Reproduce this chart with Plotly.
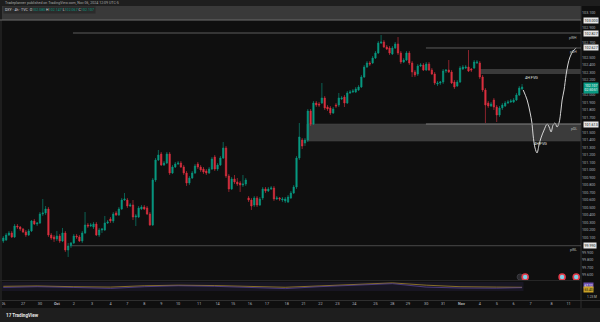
import plotly.graph_objects as go

W, H = 600, 322
PW = 581  # plot-area width in pixels (right margin holds the price scale)
UP = "#089981"
DOWN = "#dc3040"

# ---------------- data (4h candles) ----------------
opens = [100.053, 100.067, 100.133, 100.16, 100.107, 100.253, 100.24, 100.213, 100.173, 100.133,
         100.187, 100.32, 100.28, 100.293, 100.413, 100.427, 100.48, 100.133, 100.107, 100.08,
         100.12, 100.053, 100.16, 99.933, 99.987, 100.027, 100.12, 100.107, 100.053, 100.16,
         100.267, 100.253, 100.24, 100.28, 100.133, 100.2, 100.2, 100.293, 100.347, 100.32,
         100.427, 100.4, 100.48, 100.6, 100.6, 100.52, 100.533, 100.373, 100.373, 100.48,
         100.507, 100.493, 100.413, 100.267, 100.867, 101.133, 101.213, 101.067, 101.093, 101.213,
         100.96, 101.04, 101.08, 101.093, 101.04, 100.96, 100.827, 100.893, 100.96, 101.08,
         101.04, 101.013, 100.987, 100.96, 101.013, 101.173, 101.013, 101.067, 101.16, 101.293,
         100.92, 100.747, 100.88, 100.84, 100.827, 100.8, 100.813, 100.627, 100.6, 100.533,
         100.627, 100.533, 100.627, 100.747, 100.72, 100.747, 100.76, 100.613, 100.627, 100.6,
         100.587, 100.573, 100.627, 100.693, 100.773, 101.16, 101.4, 101.36, 101.4, 101.787,
         101.613, 101.893, 101.88, 101.893, 101.96, 101.84, 101.827, 101.76, 101.867, 101.867,
         101.947, 101.973, 101.893, 102.027, 102.04, 102.04, 102.067, 102.107, 102.24, 102.373,
         102.427, 102.427, 102.493, 102.56, 102.693, 102.707, 102.64, 102.627, 102.547, 102.627,
         102.68, 102.56, 102.44, 102.467, 102.56, 102.427, 102.307, 102.28, 102.387, 102.4,
         102.333, 102.413, 102.333, 102.28, 102.147, 102.16, 102.173, 102.32, 102.333, 102.307,
         102.173, 102.12, 102.173, 102.347, 102.36, 102.373, 102.347, 102.36, 102.427, 102.427,
         102.24, 102.067, 101.893, 101.853, 101.933, 101.84, 101.733, 101.827, 101.853, 101.893,
         101.907, 101.907, 101.933, 102.0, 102.08]
highs = [100.12, 100.16, 100.187, 100.187, 100.28, 100.28, 100.253, 100.227, 100.2, 100.213,
         100.333, 100.347, 100.307, 100.44, 100.613, 100.52, 100.507, 100.16, 100.133, 100.187,
         100.147, 100.227, 100.187, 100.027, 100.04, 100.147, 100.147, 100.133, 100.187, 100.44,
         100.293, 100.293, 100.307, 100.307, 100.227, 100.227, 100.387, 100.333, 100.373, 100.44,
         100.453, 100.507, 100.627, 100.693, 100.627, 100.56, 100.6, 100.413, 100.52, 100.533,
         100.533, 100.52, 100.44, 100.893, 101.16, 101.267, 101.24, 101.12, 101.24, 101.24,
         101.067, 101.107, 101.12, 101.12, 101.067, 100.987, 100.92, 100.987, 101.08, 101.107,
         101.067, 101.04, 101.013, 101.04, 101.173, 101.2, 101.093, 101.187, 101.373, 101.32,
         100.947, 100.907, 100.933, 100.893, 100.853, 100.933, 100.893, 100.653, 100.627, 100.653,
         100.653, 100.64, 100.773, 100.773, 100.773, 100.787, 100.787, 100.653, 100.64, 100.64,
         100.64, 100.667, 100.72, 100.8, 101.187, 101.627, 101.427, 101.427, 101.813, 101.813,
         101.92, 101.92, 101.907, 102.16, 101.987, 101.867, 101.853, 101.84, 101.893, 102.027,
         101.987, 102.0, 102.053, 102.067, 102.08, 102.107, 102.133, 102.267, 102.4, 102.453,
         102.453, 102.52, 102.587, 102.72, 102.8, 102.733, 102.667, 102.653, 102.653, 102.707,
         102.773, 102.587, 102.493, 102.587, 102.587, 102.453, 102.333, 102.413, 102.427, 102.427,
         102.44, 102.44, 102.36, 102.307, 102.187, 102.187, 102.347, 102.347, 102.467, 102.333,
         102.2, 102.2, 102.387, 102.4, 102.4, 102.6, 102.36, 102.467, 102.467, 102.453,
         102.267, 102.093, 101.92, 101.907, 101.96, 101.867, 101.853, 101.893, 101.92, 101.933,
         101.947, 101.96, 102.027, 102.12, 102.147]
lows = [100.027, 100.053, 100.12, 100.093, 100.093, 100.213, 100.187, 100.16, 100.107, 100.12,
        100.173, 100.267, 100.253, 100.28, 100.387, 100.4, 100.107, 100.067, 100.04, 100.053,
        100.027, 100.04, 99.907, 99.84, 99.96, 100.013, 100.08, 100.04, 100.027, 100.147,
        100.227, 100.24, 100.213, 100.12, 100.107, 100.16, 100.187, 100.28, 100.293, 100.293,
        100.387, 100.387, 100.467, 100.587, 100.493, 100.507, 100.333, 100.253, 100.36, 100.467,
        100.467, 100.4, 100.253, 100.253, 100.84, 101.12, 101.053, 101.053, 101.08, 100.933,
        100.947, 101.027, 101.067, 101.027, 100.933, 100.787, 100.8, 100.88, 100.947, 101.013,
        100.973, 100.947, 100.933, 100.947, 101.0, 100.987, 100.987, 101.053, 101.147, 100.893,
        100.707, 100.733, 100.813, 100.787, 100.707, 100.773, 100.787, 100.573, 100.467, 100.507,
        100.507, 100.52, 100.6, 100.693, 100.707, 100.733, 100.587, 100.6, 100.587, 100.573,
        100.56, 100.56, 100.613, 100.68, 100.747, 101.133, 101.28, 101.32, 101.373, 101.587,
        101.6, 101.84, 101.84, 101.88, 101.8, 101.787, 101.733, 101.747, 101.827, 101.84,
        101.933, 101.84, 101.88, 102.013, 102.027, 102.027, 102.053, 102.093, 102.227, 102.36,
        102.387, 102.413, 102.48, 102.547, 102.68, 102.627, 102.6, 102.533, 102.533, 102.613,
        102.533, 102.413, 102.427, 102.453, 102.4, 102.24, 102.24, 102.253, 102.373, 102.32,
        102.32, 102.32, 102.267, 102.133, 102.12, 102.133, 102.147, 102.293, 102.293, 102.147,
        102.08, 102.107, 102.16, 102.333, 102.347, 102.307, 102.307, 102.347, 102.413, 102.213,
        102.04, 101.627, 101.827, 101.84, 101.8, 101.64, 101.707, 101.8, 101.84, 101.88,
        101.893, 101.893, 101.92, 101.987, 102.067]
closes = [100.093, 100.133, 100.16, 100.107, 100.253, 100.24, 100.213, 100.173, 100.133, 100.187,
          100.32, 100.28, 100.293, 100.413, 100.427, 100.48, 100.133, 100.093, 100.08, 100.12,
          100.053, 100.16, 99.933, 99.987, 100.027, 100.12, 100.107, 100.053, 100.16, 100.267,
          100.253, 100.267, 100.28, 100.133, 100.2, 100.213, 100.293, 100.307, 100.32, 100.413,
          100.4, 100.48, 100.6, 100.613, 100.52, 100.533, 100.373, 100.387, 100.493, 100.507,
          100.48, 100.413, 100.267, 100.867, 101.133, 101.2, 101.067, 101.093, 101.213, 100.96,
          101.04, 101.08, 101.093, 101.04, 100.96, 100.827, 100.893, 100.96, 101.053, 101.04,
          101.0, 100.973, 100.96, 101.013, 101.147, 101.013, 101.067, 101.16, 101.293, 100.92,
          100.747, 100.88, 100.84, 100.813, 100.8, 100.813, 100.867, 100.6, 100.52, 100.627,
          100.533, 100.613, 100.747, 100.72, 100.747, 100.76, 100.613, 100.627, 100.613, 100.613,
          100.613, 100.64, 100.693, 100.773, 101.16, 101.44, 101.32, 101.4, 101.787, 101.613,
          101.893, 101.867, 101.867, 101.96, 101.827, 101.813, 101.76, 101.813, 101.853, 101.96,
          101.96, 101.893, 102.027, 102.04, 102.053, 102.08, 102.107, 102.24, 102.373, 102.427,
          102.413, 102.493, 102.56, 102.693, 102.707, 102.64, 102.613, 102.56, 102.627, 102.68,
          102.56, 102.44, 102.467, 102.56, 102.427, 102.307, 102.267, 102.387, 102.4, 102.333,
          102.413, 102.333, 102.28, 102.16, 102.16, 102.173, 102.32, 102.333, 102.307, 102.16,
          102.107, 102.173, 102.36, 102.373, 102.373, 102.32, 102.333, 102.44, 102.44, 102.24,
          102.067, 101.867, 101.853, 101.88, 101.84, 101.733, 101.827, 101.867, 101.893, 101.907,
          101.92, 101.933, 102.0, 102.093, 102.107]
bar_index = list(range(len(closes)))

# x-axis (day) labels and their bar positions
day_pos = [0, 7, 13, 19, 25, 31.5, 38, 44, 50, 56, 62, 69.5, 76, 81.5, 87.5, 93.5, 100.5,
           106.5, 112.5, 118.5, 124.5, 132, 138, 143.5, 150, 156, 162.5, 169, 175, 181, 187,
           194.5, 200.5]
day_labels = ["26", "27", "30", "<b>Oct</b>", "2", "3", "4", "7", "8", "9", "10", "11", "14",
              "15", "16", "17", "18", "21", "22", "23", "24", "25", "28", "29", "30", "31",
              "<b>Nov</b>", "4", "5", "6", "7", "8", "11"]

# price-axis labels (those hidden behind highlighted labels are left out)
price_ticks = [99.6, 99.7, 99.8, 99.9, 100.1, 100.2, 100.3, 100.4, 100.5, 100.6, 100.7,
               100.8, 100.9, 101.0, 101.1, 101.2, 101.3, 101.4, 101.5, 101.7, 101.8,
               101.9, 102.0, 102.2, 102.3, 102.4, 102.5, 102.7, 102.9, 103.1]
price_labels = ["99.600", "99.700", "99.800", "99.900", "100.100", "100.200",
                "100.300", "100.400", "100.500", "100.600", "100.700", "100.800", "100.900",
                "101.000", "101.100", "101.200", "101.300", "101.400", "101.500",
                "101.700", "101.800", "101.900", "102.000", "102.200", "102.300",
                "102.400", "102.500", "102.700", "102.900", "103.100"]

# drawn levels / zones
supply_top = 103.0
fvg_upper = [102.28, 102.347]
demand_zone = [101.387, 101.613]
level_pwh = 102.827
level_pdh = 102.627
level_pdl = 101.613
level_pwl = 99.99
level_names = ["pWH", "pDH", "pDL", "pWL"]

# projected path (bar position, price)
proj_x = [184.4, 185.8, 186.8, 187.5, 187.9, 188.6, 189.3, 190.0, 190.7, 191.8, 192.9, 193.6,
          194.3, 195.0, 195.7, 196.4, 197.1, 197.8, 198.2, 198.9, 199.6, 200.3, 201.0, 202.1,
          203.2]
proj_y = [102.067, 101.933, 101.773, 101.627, 101.467, 101.293, 101.227, 101.333, 101.427,
          101.533, 101.613, 101.573, 101.507, 101.6, 101.627, 101.573, 101.627, 101.8, 101.933,
          102.067, 102.267, 102.413, 102.507, 102.587, 102.627]

# event markers
event_x = [185.1, 198.2, 203.2]

# lower indicator
ind_x = [0, 12, 25, 38, 50, 62, 75, 88, 100, 112, 125, 138, 150, 162, 175, 184]
ind_yellow = [72, 74, 70, 68, 75, 78, 76, 71, 67, 74, 82, 90, 78, 70, 68, 67]
ind_purple = [66, 70, 66, 61, 70, 75, 72, 65, 60, 70, 78, 86, 68, 63, 62, 65]

# ---------------- layout helpers ----------------
X0, X1 = -1.17, 204.9
def py(p):  # pixel row -> paper y
    return 1 - p / H
def px(p):  # pixel column -> paper x (paper spans the plot area only)
    return p / PW

fig = go.Figure()
fig.add_trace(go.Candlestick(
    x=bar_index, open=opens, high=highs, low=lows, close=closes,
    increasing=dict(line=dict(color=UP, width=0.6), fillcolor=UP),
    decreasing=dict(line=dict(color=DOWN, width=0.6), fillcolor=DOWN),
    whiskerwidth=0, showlegend=False, hoverinfo="skip", xaxis="x", yaxis="y"))

fig.add_trace(go.Scatter(x=proj_x, y=proj_y, mode="lines", line=dict(color="#d6d6d6", width=1, shape="spline"),
                         showlegend=False, hoverinfo="skip", xaxis="x", yaxis="y"))

fig.add_trace(go.Scatter(x=[183.3], y=[99.573], mode="markers",
                         marker=dict(size=6, color="#2a2a2e", line=dict(color="#3a3a40", width=1)),
                         showlegend=False, hoverinfo="skip"))
fig.add_trace(go.Scatter(x=event_x, y=[99.573] * len(event_x), mode="markers",
                         marker=dict(size=6, color="#7fd0e6", line=dict(color="#e23b4a", width=1.6)),
                         showlegend=False, hoverinfo="skip"))

fig.add_trace(go.Scatter(x=ind_x, y=ind_yellow, mode="lines", line=dict(color="#b8952a", width=0.7),
                         showlegend=False, hoverinfo="skip", xaxis="x", yaxis="y2"))
fig.add_trace(go.Scatter(x=ind_x, y=ind_purple, mode="lines", line=dict(color="#5e47a0", width=0.7),
                         showlegend=False, hoverinfo="skip", xaxis="x", yaxis="y2"))

shapes = []
# chrome
shapes.append(dict(type="rect", xref="paper", yref="paper", x0=0, x1=px(W), y0=py(6), y1=1,
                   fillcolor="#1e1e1e", line_width=0, layer="above"))
shapes.append(dict(type="rect", xref="paper", yref="paper", x0=0, x1=px(W), y0=0, y1=py(308),
                   fillcolor="#1e1e1e", line_width=0, layer="above"))
shapes.append(dict(type="rect", xref="paper", yref="paper", x0=0, x1=px(2), y0=py(308), y1=py(6),
                   fillcolor="#1e1e1e", line_width=0, layer="above"))
shapes.append(dict(type="line", xref="paper", yref="paper", x0=1, x1=1, y0=py(308), y1=py(6),
                   line=dict(color="#2e2e2e", width=1)))
shapes.append(dict(type="line", xref="paper", yref="paper", x0=0, x1=px(W), y0=py(300.5), y1=py(300.5),
                   line=dict(color="#2e2e2e", width=1)))
shapes.append(dict(type="line", xref="paper", yref="paper", x0=0, x1=1, y0=py(280.5), y1=py(280.5),
                   line=dict(color="#262626", width=1)))
# zones
shapes.append(dict(type="rect", xref="x", yref="y", x0=X0, x1=X1, y0=supply_top, y1=103.25,
                   fillcolor="#393939", line_width=0, layer="below"))
shapes.append(dict(type="line", xref="x", yref="y", x0=X0, x1=X1, y0=supply_top, y1=supply_top,
                   line=dict(color="#6c6c6c", width=1)))
shapes.append(dict(type="rect", xref="x", yref="y", x0=169.1, x1=X1, y0=fvg_upper[0], y1=fvg_upper[1],
                   fillcolor="#3a3a3a", line_width=0, layer="below"))
shapes.append(dict(type="rect", xref="x", yref="y", x0=107.7, x1=X1, y0=demand_zone[0], y1=demand_zone[1],
                   fillcolor="#3b3b3b", line=dict(color="#444444", width=0.6), layer="below"))
# levels
shapes.append(dict(type="line", xref="x", yref="y", x0=24.7, x1=X1, y0=level_pwh, y1=level_pwh,
                   line=dict(color="#5c5c5c", width=1)))
shapes.append(dict(type="line", xref="x", yref="y", x0=149.9, x1=X1, y0=level_pdh, y1=level_pdh,
                   line=dict(color="#5c5c5c", width=1)))
shapes.append(dict(type="line", xref="x", yref="y", x0=149.9, x1=X1, y0=level_pdl, y1=level_pdl,
                   line=dict(color="#7a7a7a", width=1)))
shapes.append(dict(type="line", xref="x", yref="y", x0=24.3, x1=X1, y0=level_pwl, y1=level_pwl,
                   line=dict(color="#4a4a4a", width=1)))
# indicator band
shapes.append(dict(type="rect", xref="x", yref="y2", x0=X0, x1=184.5, y0=47, y1=95,
                   fillcolor="rgba(90,70,170,0.12)", line_width=0, layer="below"))

F = "Roboto"
ann = []
ann.append(dict(xref="paper", yref="paper", x=px(3), y=py(3.3), xanchor="left", yanchor="middle",
                text="Tradeplanner published on TradingView.com, Nov 06, 2024 12:09 UTC-5",
                showarrow=False, font=dict(family=F, size=3.6, color="#a8a8a8")))
g = "<span style='color:#089981'>"
ann.append(dict(xref="paper", yref="paper", x=px(3), y=py(9.6), xanchor="left", yanchor="middle",
                text=f"DXY · 4h · TVC  O{g}102.080</span> H{g}102.147</span> L{g}102.067</span> C{g}102.107</span>",
                showarrow=False, bgcolor="#2b2b2b", borderpad=1,
                font=dict(family=F, size=3.6, color="#d1d4dc")))
ann.append(dict(xref="paper", yref="paper", x=px(4), y=py(315), xanchor="left", yanchor="middle",
                text="<b>17 TradingView</b>", showarrow=False, font=dict(family=F, size=4.6, color="#e8e8e8")))
# zone texts
ann.append(dict(xref="x", yref="y", x=187.2, y=102.24, text="4H FVG", showarrow=False,
                font=dict(family=F, size=3.8, color="#e0e0e0")))
ann.append(dict(xref="x", yref="y", x=190.7, y=101.36, text="4H FVG", showarrow=False,
                font=dict(family=F, size=3.8, color="#e0e0e0")))
for lvl, name in zip([level_pwh, level_pdh, level_pdl, level_pwl], level_names):
    ann.append(dict(xref="paper", yref="y", x=px(579), y=lvl, xanchor="right", yanchor="top",
                    yshift=-0.5, text=name, showarrow=False,
                    font=dict(family=F, size=3.4, color="#bdbdbd")))
# highlighted axis labels
for lvl in [supply_top, level_pwh, level_pdh, level_pdl, level_pwl]:
    ann.append(dict(xref="paper", yref="y", x=px(582.5), y=lvl, xanchor="left", yanchor="middle",
                    text=f"{lvl:.3f}", showarrow=False, bgcolor="#e6e6e6", borderpad=0.6,
                    font=dict(family=F, size=3.6, color="#151515")))
ann.append(dict(xref="paper", yref="y", x=px(582.5), y=closes[-1] - 0.015, xanchor="left", yanchor="middle",
                text=f"{closes[-1]:.3f}<br>02:50:51", showarrow=False, bgcolor=UP, borderpad=0.6,
                font=dict(family=F, size=3.4, color="#ffffff")))
ann.append(dict(xref="paper", yref="y2", x=px(582.5), y=ind_yellow[-1] + 8, xanchor="left", yanchor="middle",
                text="67.12", showarrow=False, bgcolor="#6a4fb0", borderpad=0.5,
                font=dict(family=F, size=3.2, color="#ffffff")))
ann.append(dict(xref="paper", yref="y2", x=px(582.5), y=ind_purple[-1] - 12, xanchor="left", yanchor="middle",
                text="65.40", showarrow=False, bgcolor="#c9a227", borderpad=0.5,
                font=dict(family=F, size=3.2, color="#111111")))
ann.append(dict(xref="paper", yref="paper", x=px(585), y=py(296.5), xanchor="left", yanchor="middle",
                text="1.23 M", showarrow=False, font=dict(family=F, size=3.2, color="#bdbdbd")))

fig.update_layout(
    width=W, height=H, margin=dict(l=0, r=W - PW, t=0, b=0),
    paper_bgcolor="#0f0f0f", plot_bgcolor="#0f0f0f",
    shapes=shapes, annotations=ann, showlegend=False,
    xaxis=dict(domain=[0, 1], range=[X0, X1], anchor="y2", rangeslider=dict(visible=False),
               showgrid=False, zeroline=False, showline=False, ticks="",
               tickmode="array", tickvals=day_pos, ticktext=day_labels,
               tickfont=dict(family=F, size=3.8, color="#b2b5be")),
    yaxis=dict(domain=[py(280), py(6)], range=[99.533, 103.187], side="right", anchor="x",
               showgrid=False, zeroline=False, showline=False, ticks="", automargin=False,
               tickmode="array", tickvals=price_ticks, ticktext=price_labels,
               tickfont=dict(family=F, size=3.7, color="#a9acb4")),
    yaxis2=dict(domain=[py(300), py(281)], range=[0, 100], side="right", anchor="x",
                showgrid=False, zeroline=False, showline=False, showticklabels=False, ticks=""),
)

fig.write_html("out.html")
